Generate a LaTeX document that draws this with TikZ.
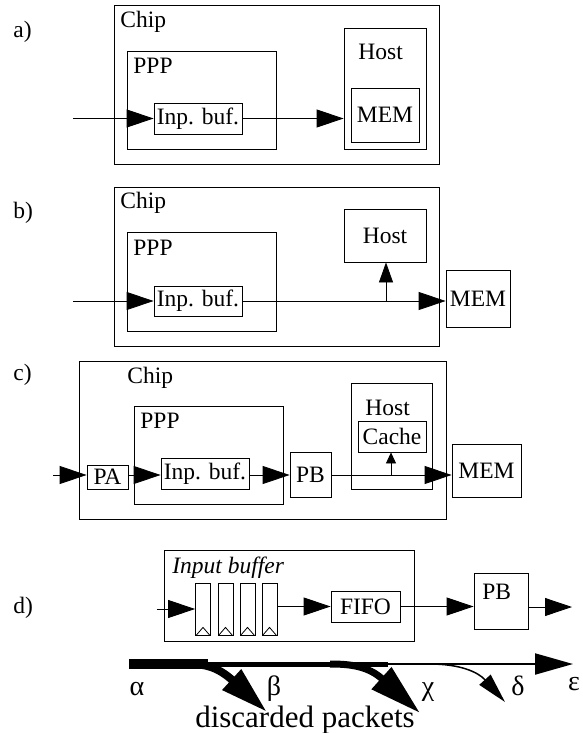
\documentclass[tikz,border=0pt]{standalone}
\usepackage{fontspec}
\setmainfont{Liberation Serif}
\usetikzlibrary{arrows.meta}
\usetikzlibrary{positioning}

\begin{document}
\begin{tikzpicture}[
    x=1pt, y=-1pt,
    line width=0.8pt,
    font=\fontsize{23.5}{28}\selectfont
]
\tikzset{
    box/.style = {draw, rectangle, inner sep=0pt},
    txt/.style = {anchor=base west, inner sep=0pt},
    greek/.style = {anchor=base, inner sep=0pt, font=\fontsize{28}{32}\selectfont},
    slot/.style = {draw, rectangle, inner sep=0pt, minimum width=15pt, minimum height=52pt},
    flow/.style = {-{Triangle[length=27pt,width=18pt]}},
    tapa/.style = {-{Triangle[length=20pt,width=14pt]}},
    tapc/.style = {-{Triangle[length=11pt,width=10pt]}}
}
\useasboundingbox (0,0) rectangle (583,733);

% a)
\node[txt] at (13,38) (labA) {a)};
\node[box, minimum width=325pt, minimum height=159pt] at (276.5,84.5) (chipA) {};
\node[txt] at (120,28) (chipAt) {Chip};
\node[box, minimum width=149pt, minimum height=98pt] at (201.5,100) (pppA) {};
\node[txt] at (133,74) (pppAt) {PPP};
\node[box, minimum width=88pt, minimum height=31pt] at (198,118.5) (bufA) {Inp. buf.};
\node[box, minimum width=82pt, minimum height=121pt] at (385,88.5) (hostA) {};
\node[txt] at (358,60) (hostAt) {Host};
\node[box, minimum width=68pt, minimum height=54pt] at (385,115) (memA) {MEM};
\coordinate (inA) at (73,118.5);
\draw[flow] (inA) -- (bufA.west);
\draw[flow] (bufA.east) -- (bufA.east -| hostA.west);

% b)
\node[txt] at (13,218) (labB) {b)};
\node[box, minimum width=325pt, minimum height=159pt] at (276.5,266.5) (chipB) {};
\node[txt] at (120,208) (chipBt) {Chip};
\node[box, minimum width=149pt, minimum height=99pt] at (201.5,281.5) (pppB) {};
\node[txt] at (133,255) (pppBt) {PPP};
\node[box, minimum width=88pt, minimum height=30pt] at (198,301) (bufB) {Inp. buf.};
\node[box, minimum width=82pt, minimum height=53pt] at (385,235.5) (hostB) {Host};
\node[box, minimum width=64pt, minimum height=57pt] at (478,298.5) (memB) {MEM};
\coordinate (inB) at (73,301);
\coordinate (tapB) at (386,301);
\draw[flow] (inB) -- (bufB.west);
\draw[flow] (bufB.east) -- (bufB.east -| memB.west);
\draw[tapa] (tapB) -- (tapB |- hostB.south);

% c)
\node[txt] at (13,380) (labC) {c)};
\node[box, minimum width=367pt, minimum height=158pt] at (262.5,440) (chipC) {};
\node[txt] at (127,383) (chipCt) {Chip};
\node[box, minimum width=149pt, minimum height=98pt] at (208.5,455) (pppC) {};
\node[txt] at (140,428) (pppCt) {PPP};
\node[box, minimum width=41pt, minimum height=24pt] at (107.5,477) (paC) {PA};
\node[box, minimum width=88pt, minimum height=31pt] at (205,473.5) (bufC) {Inp. buf.};
\node[box, minimum width=41pt, minimum height=45pt] at (310.5,474.5) (pbC) {PB};
\node[box, minimum width=81pt, minimum height=106pt] at (391.5,436) (hostC) {};
\node[txt] at (365,415) (hostCt) {Host};
\node[box, minimum width=68pt, minimum height=31pt] at (392,436.5) (cacheC) {Cache};
\node[box, minimum width=69pt, minimum height=53pt] at (486.5,470.5) (memC) {MEM};
\coordinate (inC) at (53,475);
\coordinate (tapC) at (391,475);
\draw[flow] (inC) -- (inC -| paC.west);
\draw[flow] (paC.east |- inC) -- (inC -| bufC.west);
\draw[flow] (bufC.east |- inC) -- (inC -| pbC.west);
\draw[flow] (pbC.east |- inC) -- (inC -| memC.west);
\draw[tapc] (tapC) -- (tapC |- cacheC.south);

% d)
\node[txt] at (13,613) (labD) {d)};
\node[box, minimum width=250pt, minimum height=91pt] at (289,595.5) (ibD) {};
\node[txt] at (172,573) (ibDt) {\itshape Input buffer};
\foreach \i/\x in {1/203,2/225.5,3/247.5,4/269.5} {
    \node[slot] at (\x,609) (s\i) {};
    \draw ([xshift=1pt]s\i.south west) -- ([yshift=8pt]s\i.south) -- ([xshift=-1pt]s\i.south east);
}
\node[box, minimum width=69pt, minimum height=31pt] at (365.5,606.5) (fifoD) {FIFO};
\node[box, minimum width=54pt, minimum height=56pt] at (501,601) (pbD) {};
\node[txt] at (482,599) (pbDt) {PB};
\coordinate (inD) at (157,609);
\coordinate (outD) at (572,607);
\draw[flow] (inD) -- (s1.west);
\draw[flow] (s4.east |- fifoD.west) -- (fifoD.west);
\draw[flow] (fifoD.east) -- (fifoD.east -| pbD.west);
\draw[flow] (pbD.east |- outD) -- (outD);

% packet flow
\coordinate (fa) at (129,664);
\coordinate (fb) at (208,664);
\coordinate (fc) at (388,664);
\coordinate (fe) at (573,664);
\coordinate (bs) at (190,664);
\coordinate (bt) at (267,712);
\coordinate (cs) at (330,664);
\coordinate (ct) at (420,713);
\coordinate (ds) at (430,664);
\coordinate (dt) at (505,702);
\draw[line width=8pt, -{Triangle[length=48pt,width=26pt]}] (bs) .. controls (205,664) and (218,667) .. (bt);
\draw[line width=7pt, -{Triangle[length=52pt,width=28pt]}] (cs) .. controls (350,664) and (368,666) .. (ct);
\draw[line width=1.5pt, -{Triangle[length=30pt,width=15pt]}] (ds) .. controls (460,664) and (478,672) .. (dt);
\draw[line width=9.5pt] (fa) -- (fb);
\draw[line width=5pt] (fb) -- (fc);
\draw[line width=2pt, -{Triangle[length=38pt,width=21pt]}] (fc) -- (fe);
\node[greek] at (137,695) (alpha) {α};
\node[greek] at (274,695) (beta) {β};
\node[greek] at (428,695) (chi) {χ};
\node[greek] at (518,695) (delta) {δ};
\node[greek] at (574,690) (eps) {ε};
\node[anchor=base, inner sep=0pt, font=\fontsize{31}{36}\selectfont] at (305,727) (disc) {discarded packets};
\end{tikzpicture}
\end{document}
